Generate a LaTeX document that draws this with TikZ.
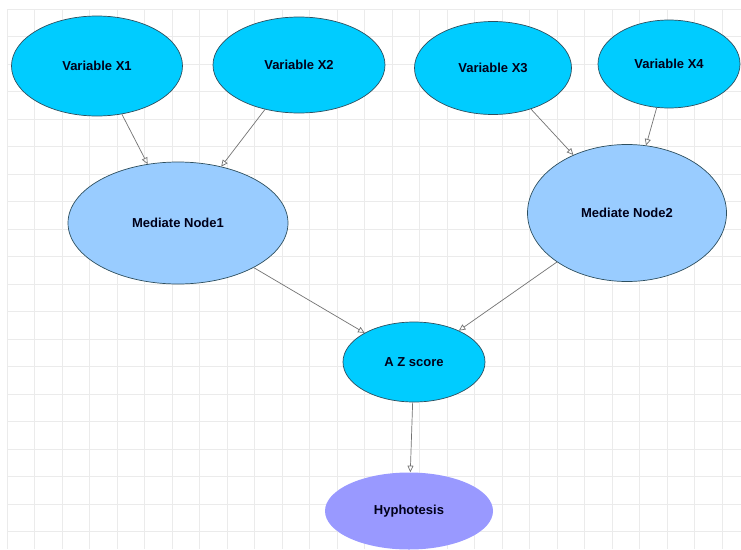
\documentclass[tikz,border=0pt]{standalone}
\usepackage{fontspec}
\setmainfont{Liberation Sans}
\usepackage{xcolor}
\usetikzlibrary{arrows.meta,shapes.geometric}

\definecolor{varcyan}{HTML}{00CCFF}
\definecolor{medblue}{HTML}{99CCFF}
\definecolor{hypviolet}{HTML}{9999FF}
\definecolor{rimgray}{HTML}{2E4F5E}
\definecolor{gridgray}{HTML}{EBEBEB}

\begin{document}
\begin{tikzpicture}[x=1pt,y=-1pt,>={Triangle[open,length=6.5pt,width=6pt]},
  oval/.style={draw=rimgray,line width=0.7pt,ellipse,inner sep=0pt,
    font=\fontsize{13}{15}\selectfont\bfseries,text=black!90!blue},
  link/.style={->,draw=black!55,line width=0.7pt}]
\useasboundingbox (0,0) rectangle (741,549);
\fill[white] (0,0) rectangle (741,549);
% background grid
\foreach \gx in {0,...,26} \draw[gridgray,line width=0.8pt] (7+27.5*\gx,9) -- (7+27.5*\gx,549);
\foreach \gy in {0,...,19} \draw[gridgray,line width=0.8pt] (7,9+27.5*\gy) -- (741,9+27.5*\gy);

\node[oval,fill=varcyan,minimum width=171pt,minimum height=100pt] (x1) at (97,66) {Variable X1};
\node[oval,fill=varcyan,minimum width=172pt,minimum height=96pt] (x2) at (299,65) {Variable X2};
\node[oval,fill=varcyan,minimum width=157pt,minimum height=93pt] (x3) at (493,68) {Variable X3};
\node[oval,fill=varcyan,minimum width=142pt,minimum height=88pt] (x4) at (669,64) {Variable X4};
\node[oval,fill=medblue,minimum width=220pt,minimum height=122pt] (med1) at (178,223) {Mediate Node1};
\node[oval,fill=medblue,minimum width=199pt,minimum height=137pt] (med2) at (627,213) {Mediate Node2};
\node[oval,fill=varcyan,minimum width=142pt,minimum height=80pt] (zscore) at (414,362) {A Z score};
\node[oval,fill=hypviolet,draw=none,minimum width=168pt,minimum height=77pt] (hyp) at (409,511) {Hyphotesis};

\draw[link] (x1) -- (med1);
\draw[link] (x2) -- (med1);
\draw[link] (x3) -- (med2);
\draw[link] (x4) -- (med2);
\draw[link] (med1) -- (zscore);
\draw[link] (med2) -- (zscore);
\draw[link] (zscore) -- (hyp);
\end{tikzpicture}
\end{document}
